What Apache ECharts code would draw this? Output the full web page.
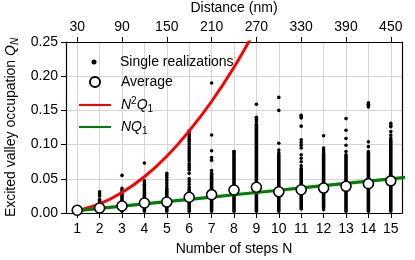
<!DOCTYPE html>
<html><head><meta charset="utf-8">
<script src="https://cdn.jsdelivr.net/npm/echarts@6/dist/echarts.min.js"></script>
<style>html,body{margin:0;padding:0;background:#fff}#c{width:415px;height:260px}</style>
</head><body><div id="c"></div>
<script>
// ---- data ----
const steps = [1,2,3,4,5,6,7,8,9,10,11,12,13,14,15];
const distanceTicks = [30,90,150,210,270,330,390,450];
const averages = [0.004,0.0073,0.0102,0.0146,0.016,0.023,0.0268,0.0336,0.0376,0.031,0.034,0.0365,0.039,0.0429,0.047];
const denseLow = [0,0,0,0,0,0,0,0,0,0,0.006,0.008,0,0,0];
const denseTop = [0.004,0.02,0.03,0.032,0.032,0.035,0.058,0.09,0.13,0.085,0.065,0.087,0.085,0.09,0.107];
const outliers = [
  [],
  [0.031,0.028,0.025],
  [0.055,0.036,0.033],
  [0.073,0.047,0.044,0.042,0.040,0.038,0.036,0.034],
  [0.058,0.055,0.052,0.048,0.044,0.040,0.036,0.034],
  [0.120,0.117,0.114,0.111,0.108,0.105,0.101,0.097,0.094,0.091,0.088,0.085,0.082,0.079,0.076,0.072,0.069,0.066,0.063,0.058,0.050,0.046,0.042,0.038],
  [0.190,0.114,0.091,0.081,0.077,0.062],
  [0.090],
  [0.159,0.140,0.137,0.134],
  [0.169,0.150,0.102,0.092,0.088],
  [0.143,0.141,0.139,0.127,0.107,0.103,0.099,0.095,0.085,0.080,0.075,0.069],
  [0.113,0.095,0.092,0.089,0.005],
  [0.138,0.121,0.109,0.099,0.090],
  [0.161,0.159,0.157,0.155,0.104,0.097],
  [0.131,0.128,0.126,0.119,0.114,0.110]
];
const redSteps = [1,2,3,4,5,6,7,8,9];
const redCurve = [0.0033,0.0133,0.030,0.053,0.083,0.120,0.163,0.213,0.270];
const greenSteps = [1,2,3,4,5,6,7,8,9,10,11,12,13,14,15,16];
const greenLine = [0.0033,0.0067,0.010,0.0133,0.0167,0.020,0.0233,0.0267,0.030,0.0333,0.0367,0.040,0.0433,0.0467,0.050,0.0533];

// ---- chart ----
const FONT = '"Liberation Sans", Arial, sans-serif';
const chart = echarts.init(document.getElementById('c'), null, {renderer:'canvas'});
const txt = {fontFamily: FONT, fontSize: 14, color: '#000'};

const legendRich = {
  p: {fontFamily: FONT, fontSize: 14, color:'#000', padding:[0,0,0,5]},
  ip: {fontFamily: FONT, fontSize: 14, color:'#000', fontStyle:'italic', padding:[0,0,0,5]},
  i: {fontFamily: FONT, fontSize: 14, color:'#000', fontStyle:'italic'},
  sup: {fontFamily: FONT, fontSize: 10, color:'#000', verticalAlign:'top', lineHeight: 10},
  sub: {fontFamily: FONT, fontSize: 10, color:'#000', verticalAlign:'bottom', lineHeight: 10}
};
function legendFmt(name) {
  if (name === 'N2Q1') return '{ip|N}{sup|2}{i|Q}{sub|1}';
  if (name === 'NQ1') return '{ip|NQ}{sub|1}';
  return '{p|' + name + '}';
}
function mkLegend(name, top, h, iconW) {
  // legend box is placed by its bounding rect; a small centred icon moves the box start
  return {
    data: [name], left: 78 + (32 - iconW) / 2, top: top, orient: 'vertical', padding: 0,
    itemWidth: 32, itemHeight: h, selectedMode: false,
    formatter: legendFmt,
    textStyle: Object.assign({}, txt, {lineHeight: 18, rich: legendRich})
  };
}

const option = {
  animation: false,
  backgroundColor: '#fff',
  grid: {left: 66, right: 13, top: 42, bottom: 47, outerBoundsMode: 'none'},
  legend: [
    mkLegend('Single realizations', 53, 5, 5),
    mkLegend('Average', 73, 10, 10),
    mkLegend('N2Q1', 96, 3, 32),
    mkLegend('NQ1', 118, 3, 32)
  ],
  xAxis: [
    {
      type: 'value', position: 'bottom', min: 0.5, max: 15.5,
      name: 'Number of steps N', nameLocation: 'middle', nameGap: 29,
      nameTextStyle: txt,
      axisLine: {show: true, onZero: false, lineStyle: {color: '#000', width: 1.2}},
      axisTick: {show: true, length: 5, inside: false, customValues: steps, lineStyle: {color:'#000'}},
      axisLabel: Object.assign({}, txt, {margin: 9, customValues: steps}),
      splitLine: {show: true, lineStyle: {color: '#d6d6d6', width: 1}}
    },
    {
      type: 'value', position: 'top', min: 15, max: 465,
      name: 'Distance (nm)', nameLocation: 'middle', nameGap: 25,
      nameTextStyle: txt,
      axisLine: {show: true, onZero: false, lineStyle: {color: '#000', width: 1.2}},
      axisTick: {show: true, length: 5, inside: false, customValues: distanceTicks, lineStyle: {color:'#000'}},
      axisLabel: Object.assign({}, txt, {margin: 8, customValues: distanceTicks}),
      splitLine: {show: false}
    }
  ],
  yAxis: [
    {
      type: 'value', min: 0, max: 0.25, interval: 0.05,
      name: 'Excited valley occupation {q|Q}{s|N}', nameLocation: 'middle', nameGap: 44,
      nameTextStyle: Object.assign({}, txt, {lineHeight: 18, rich: {
        q: {fontFamily: FONT, fontSize: 14, color:'#000', fontStyle:'italic'},
        s: {fontFamily: FONT, fontSize: 10, color:'#000', fontStyle:'italic', verticalAlign:'bottom', lineHeight: 10}
      }}),
      axisLine: {show: true, onZero: false, lineStyle: {color: '#000', width: 1.2}},
      axisTick: {show: true, length: 5, inside: false, lineStyle: {color:'#000'}},
      axisLabel: Object.assign({}, txt, {margin: 8, formatter: v => v.toFixed(2)}),
      splitLine: {show: true, lineStyle: {color: '#d6d6d6', width: 1}}
    },
    {
      type: 'value', position: 'right', min: 0, max: 0.25,
      axisLine: {show: true, onZero: false, lineStyle: {color: '#000', width: 1.2}},
      axisTick: {show: false}, axisLabel: {show: false}, splitLine: {show: false}
    }
  ],
  series: [
    {
      type: 'custom', name: 'dense', xAxisIndex: 0, yAxisIndex: 0, z: 2,
      data: steps.map((n, i) => [n, denseLow[i], denseTop[i]]),
      renderItem: function (params, api) {
        const lo = api.coord([api.value(0), api.value(1)]);
        const hi = api.coord([api.value(0), api.value(2)]);
        const extra = api.value(1) > 0 ? 1.8 : 0;
        return {type: 'rect', shape: {x: lo[0] - 1.8, y: hi[1] - 1.8, width: 3.6, height: lo[1] - hi[1] + 1.8 + extra, r: 1.8},
                style: {fill: '#000'}};
      }
    },
    {
      type: 'scatter', name: 'Single realizations', xAxisIndex: 0, yAxisIndex: 0, z: 2,
      symbol: 'circle', symbolSize: 3.6, itemStyle: {color: '#000', opacity: 1},
      emphasis: {disabled: true},
      data: outliers.flatMap((vals, i) => vals.map(v => [steps[i], v]))
    },
    {
      type: 'line', name: 'N2Q1', xAxisIndex: 0, yAxisIndex: 0, z: 3,
      symbol: 'none', smooth: 0.3, lineStyle: {color: '#ff0000', width: 3}, itemStyle: {color:'#ff0000'},
      data: redSteps.map((n, i) => [n, redCurve[i]])
    },
    {
      type: 'line', name: 'NQ1', xAxisIndex: 0, yAxisIndex: 0, z: 3,
      symbol: 'none', lineStyle: {color: '#008000', width: 3.2}, itemStyle: {color:'#008000'},
      data: greenSteps.map((n, i) => [n, greenLine[i]])
    },
    {
      type: 'scatter', name: 'Average', xAxisIndex: 0, yAxisIndex: 0, z: 5,
      symbol: 'circle', symbolSize: 10,
      itemStyle: {color: '#fff', borderColor: '#000', borderWidth: 1.6, opacity: 1},
      emphasis: {disabled: true},
      data: steps.map((n, i) => [n, averages[i]])
    }
  ]
};
chart.setOption(option);
</script>
</body></html>
